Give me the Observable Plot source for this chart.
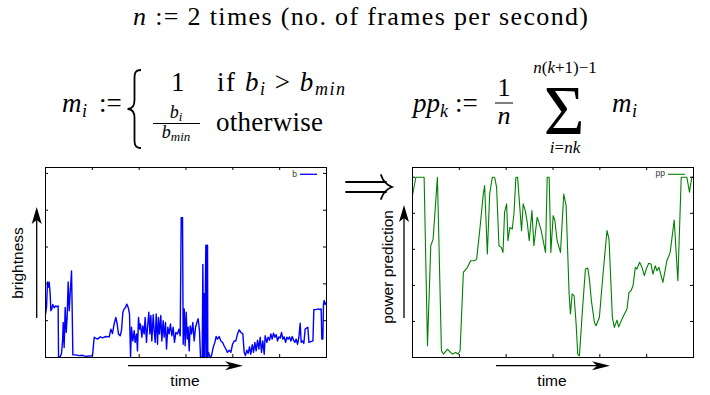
<!DOCTYPE html>
<html><head><meta charset="utf-8">
<script src="https://cdn.jsdelivr.net/npm/d3@7"></script>
<script src="https://cdn.jsdelivr.net/npm/@observablehq/plot@0.6"></script>
<style>
html,body{margin:0;padding:0;background:#fff;}
#root{position:relative;width:710px;height:395px;overflow:hidden;background:#fff;}
#root > svg{position:absolute;}
.serif{font-family:"Liberation Serif","Times New Roman",serif;}
.sans{font-family:"Liberation Sans",Arial,sans-serif;}
</style></head><body><div id="root"></div>
<script>
// ---- data ----
const bTime = [
 0,1.1,2.1,3.2,3.9,5.0,5.7,6.8,7.8,9.3,
 10.7,12.1,13.5,13.9,15.7,17.1,18.2,18.9,19.9,21.0,
 22.1,23.1,24.2,25.3,26.3,27.8,28.5,29.2,32.4,35.9,
 39.5,43.1,46.6,50.2,52.0,55.5,58.4,60.9,64.4,68.0,
 69.8,71.5,73.3,75.1,76.5,77.9,79.7,81.1,82.6,84.0,
 85.4,86.8,88.3,89.7,90.8,91.8,93.2,94.7,95.7,97.2,
 98.2,99.3,100.4,101.4,102.9,103.9,105.3,106.4,107.8,108.9,
 110.3,111.4,112.5,113.5,115.0,116.0,117.1,118.2,119.6,120.6,
 121.7,123.1,124.2,125.6,126.7,128.1,129.2,130.6,132.0,133.4,
 134.9,136.3,137.7,139.2,140.9,142.4,143.8,144.9,146.3,147.0,
 148.1,149.1,150.2,151.3,152.3,153.4,154.5,155.9,157.3,158.7,
 160.2,161.6,163.0,164.4,165.5,167.3,168.0,168.7,169.4,170.1,
 170.8,171.2,171.9,172.3,173.0,173.3,174.0,175.8,177.2,179.0,
 180.8,182.2,183.6,185.4,187.2,189.0,190.7,192.5,194.3,196.1,
 197.9,199.7,201.4,203.2,205.0,206.8,208.6,210.7,212.1,213.5,
 214.9,216.4,217.8,219.2,220.7,222.1,223.5,224.9,226.4,227.8,
 229.2,230.6,232.0,233.5,234.5,236.3,237.7,239.2,240.6,242.0,
 243.4,244.9,246.3,247.7,249.1,250.6,252.0,253.4,254.8,256.3,
 257.7,259.1,260.5,262.0,263.4,264.8,266.2,267.6,269.1,270.5,
 271.9,273.0,274.4,275.8,277.2,278.7,280.1,281.2,283.3,285.5,
 286.5,288.7,291.2,293.3,294.3,295.0,296.1,296.8,297.5,298.6,300];
const bValue = [
 1.18,1.36,2.05,1.91,2.05,1.73,1.27,1.32,1.44,1.35,
 1.40,1.38,1.40,0.02,0.02,0.11,0.45,0.95,0.27,1.36,
 0.68,1.09,2.05,1.27,1.73,2.35,1.27,0.07,0.07,0.05,
 0.06,0.03,0.04,0.05,0.55,0.50,0.56,0.53,0.57,0.56,
 0.77,0.65,0.91,1.09,0.91,0.64,0.59,0.73,1.23,1.32,
 1.36,1.45,1.36,1.18,0.0,0.82,0.45,0.73,0.41,0.64,
 0.18,1.09,0.77,0.91,0.55,0.86,0.64,1.09,0.41,0.82,
 1.23,0.64,1.14,0.45,1.16,0.73,0.41,1.18,0.36,1.09,
 0.64,1.14,0.45,1.0,0.55,0.95,0.23,0.82,0.64,0.91,
 0.59,0.82,0.41,0.68,0.64,0.77,0.59,3.8,3.8,0.36,
 1.32,0.32,1.23,0.5,0.82,0.18,0.86,0.64,0.95,0.45,
 0.82,0.95,1.05,0.73,0.0,0.02,2.53,0.0,1.73,0.0,
 2.18,3.05,0.0,3.05,3.05,0.0,0.14,0.0,0.05,0.27,
 0.41,0.57,0.5,0.57,0.45,0.41,0.32,0.23,0.14,0.2,
 0.14,0.36,0.45,0.45,0.64,0.75,0.68,0.64,0.14,0.05,
 0.2,0.11,0.29,0.09,0.35,0.14,0.41,0.18,0.47,0.23,
 0.55,0.14,0.45,0.09,0.59,0.41,0.55,0.47,0.64,0.5,
 0.66,0.55,0.62,0.45,0.56,0.53,0.68,0.5,0.56,0.41,
 0.55,0.5,0.56,0.45,0.57,0.47,0.41,0.5,0.36,0.55,
 0.93,0.41,0.45,0.38,0.77,0.8,0.82,0.41,0.43,0.45,
 1.3,1.3,1.32,1.3,1.32,0.5,0.5,1.45,1.55,1.44,1.5];
const ppTime = [
 0,3.6,12.4,16.0,19.5,22.0,26.6,30.9,33.0,37.3,
 39.8,42.6,46.2,48.6,50.8,54.3,58.6,62.1,66.4,68.5,
 72.1,75.6,77.0,79.9,82.4,85.2,87.7,89.8,92.3,94.8,
 96.6,98.3,100.5,101.9,104.0,106.5,108.3,110.4,112.2,116.4,
 118.2,120.4,122.5,124.6,127.5,129.6,133.1,134.9,137.4,142.0,
 143.8,145.9,147.7,150.2,152.0,154.4,158.0,161.5,164.0,167.2,
 168.6,170.4,172.5,174.7,176.4,178.2,181.4,184.6,187.1,188.9,
 191.0,194.2,196.0,199.5,203.1,206.3,207.7,209.8,213.4,215.5,
 218.3,220.1,224.4,229.0,231.1,233.3,235.4,237.9,239.6,242.5,
 245.0,247.5,249.6,252.1,254.6,256.7,259.2,261.0,263.1,267.3,
 271.6,275.1,279.4,283.3,286.9,292.9,295.7,298.2,300];
const ppValue = [
 0.90,1.0,1.0,0.065,0.62,0.657,1.0,0.037,0.019,0.046,
 0.033,0.019,0.028,0.019,0.037,0.472,0.5,0.537,0.537,0.546,
 0.722,0.907,0.954,0.574,0.907,1.0,1.0,0.944,0.62,0.611,
 0.583,0.806,0.852,0.648,0.722,0.713,0.796,1.0,1.0,0.704,
 0.852,0.815,0.75,0.648,0.815,0.62,0.778,0.75,0.704,0.583,
 1.0,1.0,0.583,0.787,0.759,0.648,0.583,0.907,0.843,0.352,
 0.241,0.352,0.343,0.185,0.019,0.009,0.259,0.491,0.496,0.435,
 0.315,0.194,0.176,0.222,0.444,0.63,0.704,0.657,0.222,0.167,
 0.207,0.17,0.222,0.269,0.361,0.37,0.398,0.5,0.491,0.528,
 0.5,0.454,0.491,0.522,0.519,0.463,0.509,0.481,0.5,0.417,
 0.537,0.583,0.763,0.426,1.0,1.0,0.917,1.0,1.0];
const xTicks = [50, 100, 150, 200, 250];
const bYTicks = [1, 2, 3, 4, 5];
const ppYTicks = [0.2, 0.4, 0.6, 0.8, 1.0];
const seriesNames = ["b", "pp"];
const axisTitles = ["brightness", "power prediction", "time"];

// ---- charts ----
const bData = bTime.map((t, i) => ({t, v: bValue[i]}));
const ppData = ppTime.map((t, i) => ({t, v: ppValue[i]}));

function chart({data, yDomain, yTicks, stroke, strokeWidth, ml, mr}) {
  const W = 340, H = 220, mt = 7, mb = 23;
  const fw = W - ml - mr, fh = H - mt - mb;
  return Plot.plot({
    width: W, height: H,
    marginLeft: ml, marginRight: mr, marginTop: mt, marginBottom: mb,
    x: {domain: [0, 300], axis: null},
    y: {domain: yDomain, axis: null},
    style: {background: "transparent", overflow: "visible"},
    marks: [
      Plot.line(data, {x: "t", y: "v", stroke, strokeWidth}),
      Plot.tickX(xTicks, {x: d => d, insetTop: fh - 3, stroke: "black"}),
      Plot.tickX(xTicks, {x: d => d, insetBottom: fh - 3, stroke: "black"}),
      Plot.tickY(yTicks, {y: d => d, insetRight: fw - 3, stroke: "black"}),
      Plot.tickY(yTicks, {y: d => d, insetLeft: fw - 3, stroke: "black"}),
      Plot.frame({stroke: "black", strokeWidth: 1})
    ]
  });
}

const root = document.getElementById("root");
const left = chart({data: bData, yDomain: [0, 5.16], yTicks: bYTicks, stroke: "#0000ff", strokeWidth: 1.4, ml: 45, mr: 14});
left.style.left = "0px"; left.style.top = "160px";
const right = chart({data: ppData, yDomain: [0, 1.054], yTicks: ppYTicks, stroke: "#008000", strokeWidth: 1.1, ml: 42, mr: 17});
right.style.left = "370px"; right.style.top = "160px";
root.appendChild(left);
root.appendChild(right);

// ---- formulas, labels, arrows ----
const head = (x, y, dir) => {
  if (dir === "r") return `<path d="M${x},${y} L${x-18},${y-4.5} L${x-13},${y} L${x-18},${y+4.5} Z" fill="#000"/>`;
  return `<path d="M${x},${y} L${x-5},${y+17} L${x},${y+13} L${x+5},${y+17} Z" fill="#000"/>`;
};
const svg = `
<svg xmlns="http://www.w3.org/2000/svg" width="710" height="395" style="left:0;top:0">
 <g class="serif" fill="#000">
  <text x="133" y="25" font-size="26" textLength="455"><tspan font-style="italic">n</tspan> := 2 times (no. of frames per second)</text>

  <text x="62" y="112" font-size="27" font-style="italic">m</text>
  <text x="82" y="117" font-size="18" font-style="italic">i</text>
  <text x="99" y="112" font-size="27">:=</text>
  <path d="M141,70 C134,70 134.5,75 134.5,81 L134.5,100 C134.5,106 132,109 127.5,109 C132,109 134.5,112 134.5,118 L134.5,137 C134.5,143 134,148 141,148" fill="none" stroke="#000" stroke-width="1.8"/>
  <text x="171" y="91" font-size="27">1</text>
  <text x="217" y="91" font-size="27" textLength="128">if <tspan font-style="italic">b</tspan><tspan font-size="18" font-style="italic" dy="4">i</tspan><tspan dy="-4"> &gt; </tspan><tspan font-style="italic">b</tspan><tspan font-size="18" font-style="italic" dy="4">min</tspan></text>
  <text x="176" y="118" font-size="18" font-style="italic" text-anchor="middle">b<tspan font-size="13" dy="3">i</tspan></text>
  <line x1="153" x2="200" y1="123.5" y2="123.5" stroke="#000" stroke-width="1"/>
  <text x="176" y="138" font-size="18" font-style="italic" text-anchor="middle">b<tspan font-size="13" dy="3">min</tspan></text>
  <text x="216" y="131" font-size="27" textLength="107">otherwise</text>

  <text x="413" y="112" font-size="27" font-style="italic">pp</text>
  <text x="440" y="117" font-size="18" font-style="italic">k</text>
  <text x="455" y="112" font-size="27">:=</text>
  <text x="504" y="96" font-size="26" text-anchor="middle">1</text>
  <line x1="495" x2="513" y1="103" y2="103" stroke="#000" stroke-width="1"/>
  <text x="504" y="124" font-size="26" font-style="italic" text-anchor="middle">n</text>
  <text x="564" y="134" font-size="70" text-anchor="middle">Σ</text>
  <text x="565" y="73" font-size="17" text-anchor="middle"><tspan font-style="italic">n</tspan>(<tspan font-style="italic">k</tspan>+1)−1</text>
  <text x="565" y="153" font-size="17" text-anchor="middle"><tspan font-style="italic">i</tspan>=<tspan font-style="italic">nk</tspan></text>
  <text x="612" y="112" font-size="27" font-style="italic">m</text>
  <text x="632" y="117" font-size="18" font-style="italic">i</text>
 </g>

 <g fill="none" stroke="#000" stroke-width="1.8" stroke-linecap="round">
  <line x1="346" x2="386" y1="182" y2="182"/>
  <line x1="346" x2="386" y1="192" y2="192"/>
  <path d="M381,175 Q384,184 392,187 Q384,190 381,199"/>
 </g>

 <g class="sans" fill="#000" font-size="15.5">
  <text transform="translate(23,263) rotate(-90)" text-anchor="middle">${axisTitles[0]}</text>
  <text transform="translate(392.5,267) rotate(-90)" text-anchor="middle">${axisTitles[1]}</text>
  <text x="185" y="386" text-anchor="middle">${axisTitles[2]}</text>
  <text x="552" y="386" text-anchor="middle">${axisTitles[2]}</text>
 </g>
 <g stroke="#000" stroke-width="1.3">
  <line x1="128" x2="232" y1="365.7" y2="365.7"/>
  <line x1="496" x2="599" y1="365.7" y2="365.7"/>
  <line x1="36.7" x2="36.7" y1="318" y2="219"/>
  <line x1="404" x2="404" y1="318" y2="217"/>
 </g>
 ${head(243, 365.7, "r")}
 ${head(610, 365.7, "r")}
 ${head(36.7, 207, "u")}
 ${head(404, 205, "u")}

 <g class="sans" font-size="8.5" fill="#333">
  <text x="297" y="176.7" text-anchor="end">${seriesNames[0]}</text>
  <text x="665" y="175.5" text-anchor="end">${seriesNames[1]}</text>
 </g>
 <line x1="300" x2="317" y1="174.3" y2="174.3" stroke="#0000ff" stroke-width="1.3"/>
 <line x1="668" x2="685" y1="174.3" y2="174.3" stroke="#008000" stroke-width="1.1"/>
</svg>`;
root.insertAdjacentHTML("beforeend", svg);
</script>
</body></html>
